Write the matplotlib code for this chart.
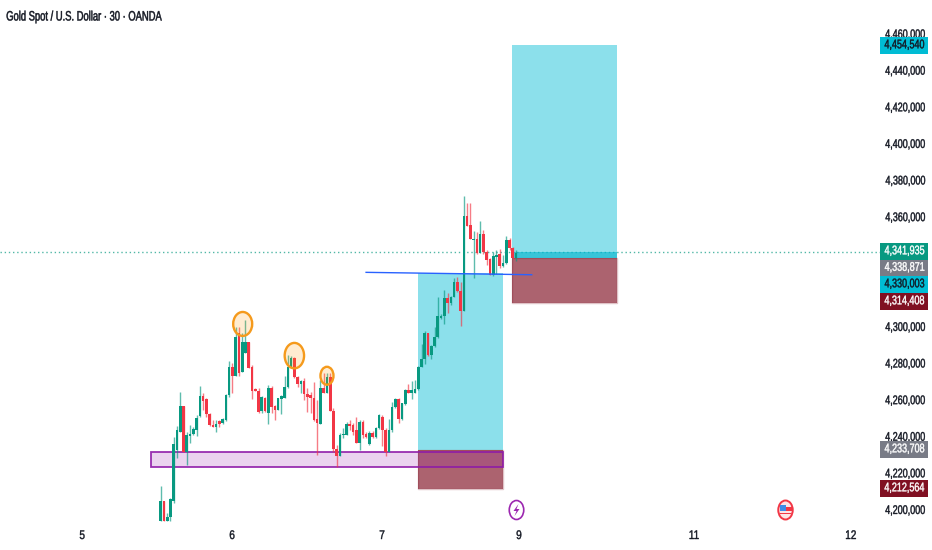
# Gold Spot / U.S. Dollar, 30 min chart with two long position boxes
import matplotlib
matplotlib.use("Agg")
import matplotlib.pyplot as plt
from matplotlib.patches import Rectangle, Ellipse, Polygon
from matplotlib.patheffects import AbstractPathEffect
from matplotlib.transforms import Affine2D

plt.rcParams["font.family"] = ["Liberation Sans", "DejaVu Sans"]

# ── data ─────────────────────────────────────────────
opens = [4193.2, 4204.4, 4193.2, 4195.9, 4204.4, 4232.3, 4242.3, 4256.3, 4231.4, 4239.9,
         4241.0, 4243.2, 4250.9, 4261.8, 4260.0, 4252.0, 4245.9, 4244.7, 4248.1, 4247.2,
         4248.7, 4262.3, 4277.4, 4272.7, 4296.0, 4275.0, 4285.1, 4291.4, 4277.4, 4265.4,
         4264.7, 4253.8, 4260.5, 4252.3, 4266.0, 4256.5, 4254.1, 4260.0, 4260.9, 4266.5,
         4276.9, 4282.3, 4272.0, 4268.2, 4270.0, 4262.9, 4262.3, 4260.5, 4249.0, 4246.5,
         4266.0, 4263.6, 4272.0, 4253.6, 4232.7, 4228.7, 4240.2, 4240.5, 4246.5, 4246.0,
         4242.9, 4236.3, 4247.8, 4241.1, 4235.4, 4241.4, 4239.3, 4244.2, 4250.5, 4242.9,
         4231.4, 4243.3, 4255.6, 4260.0, 4249.1, 4257.5, 4265.1, 4263.6, 4263.6, 4265.5,
         4277.8, 4282.0, 4296.0, 4284.2, 4288.8, 4293.9, 4304.2, 4305.5, 4315.2, 4312.4,
         4315.7, 4323.9, 4319.3, 4308.4, 4360.1, 4355.2, 4347.0, 4347.4, 4339.7, 4350.3,
         4340.6, 4336.4, 4327.9, 4337.9, 4339.4, 4332.8, 4334.3, 4347.0, 4342.4, 4337.0]
highs = [4212.6, 4204.4, 4197.7, 4205.9, 4239.6, 4245.4, 4264.0, 4256.3, 4242.3, 4245.9,
         4245.0, 4251.4, 4267.2, 4263.2, 4260.9, 4252.3, 4248.7, 4248.7, 4248.7, 4249.6,
         4262.7, 4281.0, 4279.6, 4299.3, 4299.6, 4296.0, 4303.3, 4291.4, 4278.7, 4266.0,
         4266.0, 4261.8, 4261.4, 4267.8, 4267.2, 4256.9, 4260.9, 4262.3, 4272.7, 4284.2,
         4283.6, 4283.2, 4272.7, 4270.5, 4271.4, 4266.0, 4264.1, 4269.6, 4259.6, 4270.5,
         4274.2, 4274.5, 4274.2, 4255.0, 4235.0, 4241.4, 4244.2, 4247.8, 4248.7, 4246.9,
         4250.2, 4248.7, 4248.4, 4241.8, 4242.4, 4242.4, 4244.7, 4252.0, 4251.5, 4244.2,
         4249.0, 4258.7, 4260.5, 4260.5, 4257.8, 4265.5, 4268.4, 4270.2, 4270.6, 4278.2,
         4290.2, 4297.5, 4296.4, 4289.7, 4299.3, 4315.7, 4306.6, 4319.7, 4318.2, 4316.4,
         4326.0, 4326.6, 4324.2, 4371.0, 4367.0, 4367.0, 4352.1, 4351.6, 4357.6, 4352.5,
         4341.5, 4337.0, 4340.6, 4341.5, 4341.9, 4338.8, 4349.2, 4347.9, 4343.4, 4341.5]
lows = [4193.2, 4193.2, 4193.2, 4193.2, 4203.2, 4227.7, 4242.3, 4231.4, 4224.1, 4235.9,
        4240.5, 4239.9, 4250.5, 4254.1, 4250.5, 4245.4, 4244.7, 4242.3, 4244.7, 4246.5,
        4248.3, 4261.4, 4263.6, 4272.7, 4272.7, 4275.0, 4285.1, 4276.9, 4260.0, 4264.2,
        4252.3, 4252.3, 4253.2, 4246.5, 4252.3, 4248.7, 4254.1, 4251.9, 4260.5, 4266.0,
        4276.9, 4271.4, 4266.5, 4263.2, 4259.6, 4253.2, 4252.3, 4248.3, 4229.6, 4246.5,
        4263.2, 4263.2, 4253.6, 4231.4, 4223.2, 4228.7, 4238.7, 4240.5, 4243.3, 4240.5,
        4236.0, 4232.0, 4238.7, 4238.7, 4235.0, 4238.7, 4238.7, 4243.6, 4234.2, 4228.7,
        4231.4, 4242.3, 4255.1, 4246.9, 4248.7, 4256.9, 4263.3, 4260.0, 4263.3, 4265.1,
        4277.8, 4279.3, 4283.7, 4281.9, 4288.4, 4293.3, 4303.7, 4301.1, 4307.0, 4311.5,
        4315.7, 4318.8, 4300.0, 4308.4, 4354.6, 4347.4, 4326.4, 4339.4, 4339.7, 4339.4,
        4333.4, 4327.9, 4327.3, 4328.4, 4331.5, 4332.4, 4333.9, 4341.5, 4336.4, 4335.7]
closes = [4204.4, 4193.2, 4195.5, 4205.5, 4235.6, 4243.2, 4256.3, 4231.4, 4240.5, 4240.9,
          4243.6, 4249.6, 4261.8, 4259.1, 4252.0, 4245.8, 4245.0, 4246.3, 4246.3, 4249.2,
          4262.3, 4277.4, 4272.7, 4294.2, 4274.5, 4291.1, 4291.4, 4276.9, 4264.7, 4264.5,
          4253.2, 4261.4, 4253.8, 4266.0, 4255.6, 4254.1, 4260.5, 4261.8, 4266.5, 4277.4,
          4282.3, 4272.0, 4268.3, 4270.0, 4262.9, 4261.4, 4260.5, 4248.7, 4246.9, 4266.0,
          4263.6, 4272.0, 4253.6, 4232.7, 4229.0, 4240.5, 4241.1, 4246.5, 4245.4, 4242.3,
          4236.3, 4247.8, 4240.5, 4239.6, 4241.4, 4239.6, 4244.2, 4251.1, 4242.9, 4231.4,
          4242.9, 4255.6, 4260.0, 4249.1, 4257.8, 4265.1, 4263.6, 4265.1, 4265.5, 4277.8,
          4282.0, 4296.0, 4284.2, 4289.1, 4293.9, 4305.5, 4305.5, 4315.2, 4312.4, 4315.7,
          4323.9, 4319.3, 4308.4, 4360.1, 4354.6, 4347.4, 4347.7, 4339.7, 4350.3, 4340.6,
          4336.1, 4327.9, 4338.4, 4338.8, 4332.8, 4334.3, 4347.0, 4342.4, 4337.0, 4340.1]

# price axis labels that are not hidden by a tag
tick_prices = [4460, 4440, 4420, 4400, 4380, 4360, 4300, 4280, 4260, 4240, 4220, 4200]

# time axis (candle number of each day label)
day_labels = ["5", "6", "7", "9", "11", "12"]
day_pos = [-24.1, 21.9, 67.9, 109.9, 163.6, 211.7]

last_price = 4340.4

# long positions: take profit, entry, stop, first and last candle
box1_levels = [4329.0, 4232.2, 4210.9]
box1_span = [79.0, 105.0]
box2_levels = [4453.3, 4337.1, 4312.8]
box2_span = [107.8, 140.0]

zone_prices = [4231.2, 4223.2]
zone_span = [-3.0, 105.0]

trend_x = [63.0, 113.8]
trend_y = [4329.3, 4328.0]

# swing highs marked with circles: candle, price, width, height
circle_x = [25.15, 41.0, 51.0]
circle_y = [4301.1, 4283.8, 4272.8]
circle_w = [5.83, 5.95, 4.0]
circle_h = [13.1, 13.9, 9.8]

tag_text = ["4,454,540", "4,341,935", "4,338,871", "4,330,003", "4,314,408", "4,233,708", "4,212,564"]
tag_top = [37, 243, 259.5, 276, 293, 441, 480]
tag_bg = ["#00BCD4", "#089981", "#787B86", "#00BCD4", "#801022", "#787B86", "#801022"]
tag_fg = ["#131722", "white", "white", "#131722", "white", "white", "white"]

GREEN = "#089981"
RED = "#F23645"


# the chart's font is a condensed one, none is installed, so squeeze the glyphs
class Squeeze(AbstractPathEffect):
    def __init__(self, sx, anchor="right", stroke=0.0):
        super().__init__()
        self.sx = sx
        self.anchor = anchor
        self.stroke = stroke

    def draw_path(self, renderer, gc, tpath, affine, rgbFace=None):
        ext = tpath.get_extents()
        x0 = {"right": ext.x1, "left": ext.x0, "center": (ext.x0 + ext.x1) / 2}[self.anchor]
        a = Affine2D().translate(-x0, 0).scale(self.sx, 1).translate(x0, 0) + affine
        gc0 = renderer.new_gc()
        gc0.copy_properties(gc)
        gc0.set_linewidth(self.stroke)
        gc0.set_foreground(rgbFace)
        renderer.draw_path(gc0, tpath, a, rgbFace)
        gc0.restore()


# ── figure ───────────────────────────────────────────
fig = plt.figure(figsize=(9.32, 5.5), dpi=100)
ax = fig.add_axes([0, 0, 1, 1])
ax.set_xlim(-49.3, 236.6)
ax.set_ylim(4177.6, 4478.1)
ax.axis("off")

# dotted last price line
ax.plot([-49.3, 222], [last_price, last_price], color=GREEN, lw=1.0, ls=(0, (1, 2)), alpha=0.7, zorder=1)


def long_box(levels, span):
    tp, entry, stop = levels
    w = span[1] - span[0]
    ax.add_patch(Rectangle((span[0], entry), w, tp - entry, fc="#00BCD4", alpha=0.45, lw=0, zorder=2))
    ax.add_patch(Rectangle((span[0], stop), w, entry - stop, fc="#801022", alpha=0.65, lw=0, zorder=2))
    ax.add_patch(Rectangle((span[0], stop), w, entry - stop, fc="none", ec="#801022", alpha=0.25,
                           lw=1.0, zorder=2))


long_box(box1_levels, box1_span)
long_box(box2_levels, box2_span)

# thin darker band on the second box, entry up to last price
ax.add_patch(Rectangle((box2_span[0], box2_levels[1]), box2_span[1] - box2_span[0],
                       last_price - box2_levels[1], fc="#00B4CC", alpha=0.6, lw=0, zorder=2))

# purple demand zone
ax.add_patch(Rectangle((zone_span[0], zone_prices[1]), zone_span[1] - zone_span[0],
                       zone_prices[0] - zone_prices[1], fc="#9C27B0", alpha=0.2, lw=0, zorder=3))
ax.add_patch(Rectangle((zone_span[0], zone_prices[1]), zone_span[1] - zone_span[0],
                       zone_prices[0] - zone_prices[1], fc="none", ec="#8E1AA8", alpha=0.9, lw=1.3, zorder=3))

# candles
for i in range(len(opens)):
    col = GREEN if closes[i] >= opens[i] else RED
    ax.vlines(i, lows[i], highs[i], color=col, lw=1.0, alpha=0.65, zorder=4)
    ax.bar(i, abs(closes[i] - opens[i]), bottom=min(opens[i], closes[i]), width=0.8,
           color=col, lw=0, zorder=5)

ax.plot(trend_x, trend_y, color="#2962FF", lw=1.0, zorder=6)

for cx, cy, cw, ch in zip(circle_x, circle_y, circle_w, circle_h):
    ax.add_patch(Ellipse((cx, cy), cw, ch, fc="#FF9800", alpha=0.18, lw=0, zorder=6))
    ax.add_patch(Ellipse((cx, cy), cw, ch, fc="none", ec="#F59A1C", lw=1.7, zorder=6))

squeeze_right = [Squeeze(0.72, "right", 0.3)]

# overlay in pixels for title, price labels, tags and calendar icons
ov = fig.add_axes([0, 0, 1, 1], facecolor="none")
ov.set_xlim(0, 932)
ov.set_ylim(550, 0)
ov.axis("off")

for p in tick_prices:
    ax.annotate(f"{p * 1000:,d}", (925.5 / 932, p), xycoords=("axes fraction", "data"),
                xytext=(0, -1.4), textcoords="offset points", ha="right", va="center",
                fontsize=9, color="#131722", path_effects=squeeze_right)

for lab, pos in zip(day_labels, day_pos):
    ax.text(pos, 4177.6 + 14 * 0.5464, lab, ha="center", va="center", fontsize=9,
            color="#131722", path_effects=[Squeeze(0.8, "center", 0.3)])

ov.text(6, 16.5, "Gold Spot / U.S. Dollar · 30 · OANDA", ha="left", va="center",
        fontsize=9.8, color="#131722", path_effects=[Squeeze(0.69, "left", 0.35)])

for txt, top, bg, fg in zip(tag_text, tag_top, tag_bg, tag_fg):
    ov.add_patch(Rectangle((879.5, top), 48.5, 16.5, fc=bg, lw=0))
    ov.text(924.5, top + 8.3, txt, ha="right", va="center", fontsize=9, color=fg,
            path_effects=squeeze_right)

# lightning icon
ov.add_patch(Ellipse((516.5, 510), 14.5, 19, fc="white", ec="#9C27B0", lw=1.2))
ov.add_patch(Polygon([(518.5, 504), (513.5, 511), (516.5, 511), (514.5, 516), (519.5, 509), (516.5, 509)],
                     fc="#9C27B0", lw=0))

# US news icon
ov.add_patch(Ellipse((785.5, 510), 14.5, 19, fc="#FDE3E5", ec="#F23645", lw=1.4))
ov.add_patch(Rectangle((780, 504.5), 6, 6.5, fc="#3D8BE8", lw=0))
ov.add_patch(Rectangle((786, 507), 5.5, 4, fc="#F23645", lw=0))
ov.add_patch(Rectangle((780, 512.5), 11, 1.8, fc="#F23645", lw=0))

fig.savefig("out.png", dpi=100)
